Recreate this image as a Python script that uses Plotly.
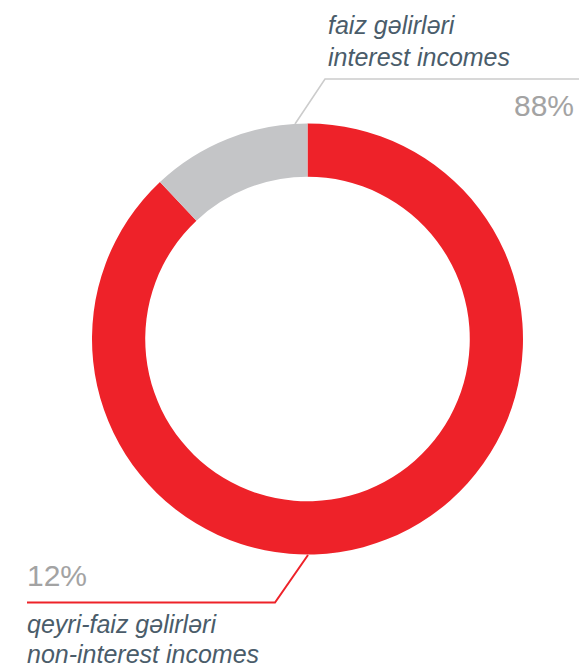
import plotly.graph_objects as go

# Income structure: share of each income type
categories = ["qeyri-faiz gəlirləri / non-interest incomes", "faiz gəlirləri / interest incomes"]
values = [88, 12]
colors = ["#ee2229", "#c4c5c7"]
pct_labels = ["88%", "12%"]

W, H = 579, 669
cx, cy, r_out = 307.5, 339, 215.5

fig = go.Figure()

fig.add_trace(go.Pie(
    labels=categories,
    values=values,
    marker=dict(colors=colors, line=dict(width=0)),
    hole=0.753,
    sort=False,
    direction="clockwise",
    rotation=0,
    textinfo="none",
    hoverinfo="label+percent",
    showlegend=False,
    domain=dict(
        x=[(cx - r_out) / W, (cx + r_out) / W],
        y=[(H - cy - r_out) / H, (H - cy + r_out) / H],
    ),
))

# invisible pixel-space axes for leader lines and labels
fig.update_layout(
    width=W, height=H,
    margin=dict(l=0, r=0, t=0, b=0),
    paper_bgcolor="white", plot_bgcolor="rgba(0,0,0,0)",
    xaxis=dict(range=[0, W], visible=False, fixedrange=True),
    yaxis=dict(range=[H, 0], visible=False, fixedrange=True),
)

# leader lines
fig.add_trace(go.Scatter(
    x=[295, 325, 579], y=[124, 79, 79], mode="lines",
    line=dict(color="#cccccc", width=1.6), hoverinfo="skip", showlegend=False,
))
fig.add_trace(go.Scatter(
    x=[308, 275, 27], y=[555, 602.5, 602.5], mode="lines",
    line=dict(color="#ee2229", width=2), hoverinfo="skip", showlegend=False,
))

text_font = dict(family="Liberation Sans, Arial, sans-serif", size=25, color="#4a5c6a", style="italic")
pct_font = dict(family="Liberation Sans, Arial, sans-serif", size=30, color="#a3a3a3")

def label(x, y, text, font, anchor="left"):
    fig.add_annotation(x=x, y=y, xref="x", yref="y", text=text, showarrow=False,
                       xanchor=anchor, yanchor="middle", font=font, borderpad=0)

label(327, 25, "faiz gəlirləri", text_font)
label(327, 57, "interest incomes", text_font)
label(575, 105, pct_labels[0], pct_font, anchor="right")
label(26, 575, pct_labels[1], pct_font)
label(26, 624, "qeyri-faiz gəlirləri", text_font)
label(26, 654, "non-interest incomes", text_font)

fig.write_html("out.html")
